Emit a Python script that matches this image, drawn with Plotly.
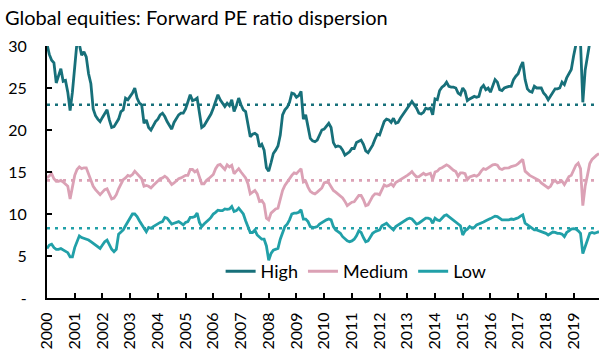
import plotly.graph_objects as go

# Monthly forward PE, Jan 2000 onwards
high = [30.2, 29.0, 28.3, 28.0, 25.6, 26.5, 27.3, 25.8, 25.9, 24.5, 22.3, 24.5,
        28.0, 30.5, 30.2, 28.9, 29.3, 28.7, 26.7, 25.5, 22.5, 21.7, 21.3, 21.0,
        21.5, 22.0, 22.4, 21.2, 20.3, 20.4, 20.8, 21.3, 22.2, 22.4, 23.8, 23.6,
        24.0, 24.4, 25.0, 23.8, 23.2, 23.0, 20.8, 21.2, 20.3, 20.0, 20.5, 21.0,
        21.3, 21.8, 22.0, 21.6, 21.0, 20.5, 20.1, 20.9, 21.4, 21.8, 22.0, 22.0,
        22.5, 23.3, 24.2, 23.5, 23.6, 23.8, 22.0, 20.3, 20.5, 21.0, 21.5, 21.9,
        22.6, 23.3, 24.2, 23.6, 23.2, 22.8, 23.2, 22.9, 23.6, 22.2, 22.9, 23.8,
        23.0, 22.4, 22.2, 20.9, 19.2, 19.5, 19.6, 19.4, 18.0, 18.3, 17.6, 15.5,
        15.1, 16.1, 17.2, 17.6, 18.1, 19.4, 21.8, 22.4, 22.7, 23.3, 24.4, 24.3,
        23.9, 24.1, 24.6, 21.3, 21.8, 20.4, 19.0, 18.7, 18.6, 18.8, 19.5, 20.0,
        20.1, 20.4, 20.8, 20.3, 18.5, 18.0, 18.1, 18.0, 17.6, 17.0, 17.2, 17.4,
        17.8, 17.8, 18.5, 18.7, 18.8, 18.3, 17.5, 17.3, 17.8, 18.2, 18.9, 19.5,
        19.4, 20.2, 21.0, 21.3, 21.2, 20.9, 21.4, 20.8, 20.9, 21.4, 21.8, 22.1,
        22.5, 22.9, 23.4, 23.0, 22.6, 22.0, 21.9, 22.1, 22.6, 22.5, 22.6, 21.8,
        23.7, 23.6, 24.7, 25.1, 25.3, 25.7, 25.2, 25.1, 25.1, 25.0, 24.4, 24.2,
        25.0, 24.6, 23.5, 23.7, 23.9, 24.0, 23.9, 24.0, 25.0, 25.3, 24.8, 25.0,
        24.5, 25.4, 26.0, 25.7, 24.8, 24.7, 25.0, 25.1, 25.2, 25.2, 26.0, 26.4,
        26.7, 27.5, 28.1, 26.0, 24.9, 24.6, 24.5, 25.2, 25.0, 25.0, 25.0, 24.4,
        24.1, 23.6, 24.0, 24.5, 24.9, 24.9, 25.0, 25.7, 25.4, 26.2, 26.8, 27.2,
        28.8, 30.3, 31.5, 30.4, 23.3, 27.1, 28.9, 30.4, 31.5, 32.0, 32.4, 32.8]

medium = [14.3, 14.6, 14.8, 14.2, 13.9, 13.9, 14.0, 13.8, 13.6, 13.3, 11.8, 13.3,
          14.6, 15.3, 15.6, 15.4, 15.5, 15.5, 14.8, 14.0, 13.3, 12.9, 12.6, 12.3,
          12.6, 12.9, 13.0, 12.3, 11.8, 11.9, 12.3, 13.0, 13.6, 14.1, 14.3, 14.6,
          14.5, 14.7, 15.1, 14.8, 14.5, 14.2, 13.3, 13.4, 13.3, 13.1, 13.4, 13.7,
          14.0, 14.2, 14.3, 14.5, 14.3, 13.9, 13.5, 13.7, 14.0, 14.2, 14.3, 14.5,
          14.6, 14.6, 15.3, 15.3, 15.0, 15.2, 14.4, 13.6, 13.6, 14.0, 14.2, 14.4,
          14.7, 15.4, 15.8, 15.9, 15.6, 15.3, 15.85, 15.6, 15.8, 14.8, 15.1, 15.4,
          15.0, 14.7, 14.3, 13.6, 12.4, 12.6, 12.8, 12.4, 11.5, 11.6, 11.2, 9.5,
          9.3, 10.1, 10.4, 10.6, 10.7, 11.9, 12.8, 13.4, 13.8, 14.3, 14.6, 14.9,
          14.8, 15.1, 15.4, 13.8, 13.9, 13.2, 12.7, 12.5, 12.4, 12.6, 12.8, 13.1,
          13.7, 13.8, 13.7, 13.2, 12.8, 12.6, 12.4, 12.1, 11.9, 11.5, 11.0, 11.2,
          11.4, 11.45, 11.9, 12.2, 12.2, 11.7, 11.0, 11.1, 11.6, 12.1, 12.4, 12.4,
          12.3, 12.9, 13.45, 13.3, 13.4, 13.6, 13.3, 13.75, 13.9, 14.05, 14.2, 14.45,
          14.6, 14.8, 15.05, 14.7, 14.4, 14.45, 14.6, 14.85, 14.65, 14.75, 14.85, 14.1,
          15.0, 15.1, 15.4, 15.5, 15.65, 15.85, 15.7, 15.4, 15.2, 15.05, 14.5, 14.9,
          14.9, 14.8, 14.1, 14.4, 14.55, 14.6, 14.5, 14.7, 15.1, 15.4, 15.3, 15.5,
          15.7, 15.85, 15.9, 15.8, 15.4, 15.3, 15.45, 15.45, 15.5, 15.65, 15.7, 15.8,
          16.0, 16.3, 16.5, 15.1, 14.8, 14.6, 14.45, 14.3, 14.1, 14.0, 13.7, 13.5,
          13.4, 13.1, 13.3, 13.8, 14.0, 13.7, 13.8, 13.9, 13.5, 14.0, 14.45, 14.6,
          15.3, 15.8, 16.05, 15.4, 11.0, 13.3, 14.6, 16.0, 16.5, 16.8, 17.0, 17.2]

low = [5.9, 6.3, 6.4, 6.0, 5.8, 5.8, 5.9, 5.7, 5.6, 5.4, 4.9, 4.9,
       6.0, 6.8, 7.4, 7.2, 7.1, 7.0, 6.9, 6.7, 6.5, 6.3, 6.1, 5.9,
       6.3, 6.7, 6.9, 6.3, 5.8, 5.5, 5.8, 7.6, 7.9, 8.1, 8.6, 9.1,
       9.5, 10.0, 10.0, 9.7, 9.2, 8.8, 8.3, 7.9, 8.4, 8.3, 8.5, 8.7,
       8.8, 9.0, 9.1, 9.6, 9.5, 9.1, 8.8, 8.9, 9.0, 9.1, 8.9, 8.7,
       9.0, 9.1, 9.6, 9.6, 9.7, 10.1, 9.0, 8.5, 8.8, 9.0, 9.3, 9.6,
       10.0, 10.2, 10.45, 10.4, 10.4, 10.6, 10.55, 10.6, 10.9, 10.3, 10.4, 10.7,
       10.4, 10.0, 9.2, 8.6, 7.8, 7.8, 8.1, 7.5, 7.2, 7.0, 7.0, 6.2,
       4.5, 5.3, 5.7, 5.8, 5.9, 7.0, 7.8, 8.5, 8.8, 9.3, 10.0, 10.1,
       10.1, 10.2, 10.5, 9.4, 9.4, 9.1, 8.5, 8.4, 8.4, 8.5, 8.8, 9.0,
       9.1, 9.3, 9.4, 9.3, 8.5, 8.1, 7.9, 7.7, 7.3, 7.0, 6.8, 6.7,
       6.8, 7.0, 7.4, 8.0, 7.8, 7.2, 6.7, 6.8, 7.2, 7.7, 7.9, 8.0,
       8.1, 8.6, 8.8, 8.9, 8.6, 8.4, 8.1, 8.5, 8.7, 8.9, 9.1, 9.3,
       9.4, 9.5, 9.4, 9.1, 8.8, 8.9, 9.1, 9.3, 9.5, 9.5, 9.4, 8.9,
       9.5, 9.3, 9.2, 9.5, 9.8, 9.9, 9.7, 9.5, 9.2, 9.1, 8.9, 8.6,
       7.5, 8.0, 8.2, 8.5, 8.35, 8.4, 8.7, 8.8, 8.9, 9.05, 9.2, 9.3,
       9.45, 9.6, 9.75, 9.7, 9.5, 9.3, 9.3, 9.3, 9.3, 9.4, 9.35, 9.45,
       9.55, 9.75, 9.9, 8.9, 8.7, 8.5, 8.3, 8.1, 8.1, 8.0, 7.9, 7.8,
       7.7, 7.5, 7.7, 7.85, 7.8, 7.7, 7.7, 7.6, 7.3, 7.8, 8.0, 8.2,
       8.25, 8.2, 8.0, 7.7, 5.3, 6.1, 7.0, 7.7, 7.8, 7.7, 7.8, 7.9]

# Long-run averages (dotted lines)
high_avg = 23.0
medium_avg = 14.0
low_avg = 8.3

years = [str(y) for y in range(2000, 2020)]
y_ticks = [0, 5, 10, 15, 20, 25, 30]
y_labels = ["-", "5", "10", "15", "20", "25", "30"]

C_HIGH = "#17707A"
C_MED = "#DBA1B5"
C_LOW = "#21A0A8"

n = len(high)
x = list(range(n))

fig = go.Figure()
for avg, col in [(high_avg, C_HIGH), (medium_avg, C_MED), (low_avg, C_LOW)]:
    fig.add_trace(go.Scatter(x=x, y=[avg] * n, mode="lines", showlegend=False,
                             line=dict(color=col, width=2.6, dash="3px,5px"),
                             hoverinfo="skip"))
for vals, name, col in [(high, "High", C_HIGH), (medium, "Medium", C_MED), (low, "Low", C_LOW)]:
    fig.add_trace(go.Scatter(x=x, y=vals, mode="lines", name=name,
                             line=dict(color=col, width=2.8)))

font_family = "Lato, 'Open Sans', sans-serif"
fig.update_layout(
    width=615, height=355,
    margin=dict(l=47, r=16, t=46, b=57, autoexpand=False),
    paper_bgcolor="white", plot_bgcolor="white",
    font=dict(family=font_family, size=14, color="#000000"),
    title=dict(text="Global equities: Forward PE ratio dispersion",
               x=5 / 615, xref="container", xanchor="left",
               y=1 - 18 / 355, yref="container", yanchor="middle",
               font=dict(size=20, color="#000000", family=font_family)),
    legend=dict(orientation="h", x=0.56, xanchor="center", y=0.105, yanchor="middle",
                bgcolor="rgba(0,0,0,0)", font=dict(size=18, color="#000000"),
                traceorder="normal"),
    showlegend=True,
)
fig.update_xaxes(range=[0, n - 1], tickmode="array",
                 tickvals=[12 * k for k in range(len(years))], ticktext=years,
                 tickangle=-90, ticks="inside", ticklen=5, tickwidth=1.5,
                 tickcolor="#000000", showline=True, linecolor="#000000", linewidth=2,
                 showgrid=False, zeroline=False, tickfont=dict(size=16),
                 ticklabelstandoff=6, automargin=False)
fig.update_yaxes(range=[0, 30], tickmode="array", tickvals=y_ticks, ticktext=y_labels,
                 ticks="inside", ticklen=5, tickwidth=1.5, tickcolor="#000000",
                 showline=True, linecolor="#000000", linewidth=2,
                 showgrid=False, zeroline=False, tickfont=dict(size=16),
                 ticklabelstandoff=15, automargin=False)

fig.write_html("out.html", config={"displayModeBar": False},
               post_script="document.body.style.margin='0px';")
